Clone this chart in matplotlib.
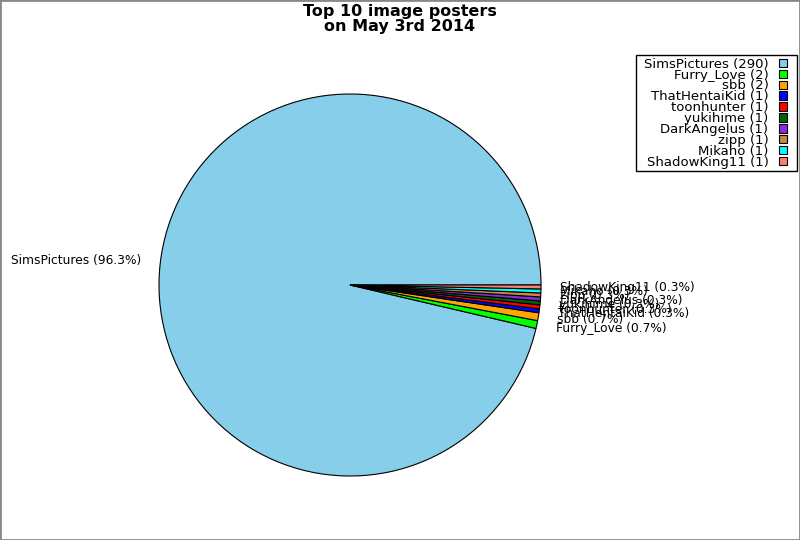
import matplotlib
matplotlib.use("Agg")
import matplotlib.pyplot as plt
from matplotlib.patches import Rectangle

names = ["SimsPictures", "Furry_Love", "sbb", "ThatHentaiKid", "toonhunter",
         "yukihime", "DarkAngelus", "zipp", "Mikaho", "ShadowKing11"]
counts = [290, 2, 2, 1, 1, 1, 1, 1, 1, 1]
colors = ["#87CEEB", "#00FF00", "#FFA500", "#0000FF", "#FF0000",
          "#006400", "#8A2BE2", "#CD853F", "#00FFFF", "#FA8072"]

total = sum(counts)
pie_labels = [f"{n} ({c / total * 100:.1f}%)" for n, c in zip(names, counts)]
legend_labels = [f"{n} ({c})" for n, c in zip(names, counts)]

fig = plt.figure(figsize=(8, 5.4), dpi=100)
W, H = 800, 540
cx, cy, r = 350, 255, 191
side = 2.5 * r
ax = fig.add_axes([(cx - side / 2) / W, (cy - side / 2) / H, side / W, side / H])

wedges, texts = ax.pie(counts, labels=pie_labels, colors=colors, startangle=0,
                       counterclock=True,
                       wedgeprops=dict(edgecolor="black", linewidth=0.8),
                       textprops=dict(fontsize=8.8))
ax.set_aspect("equal")

fig.suptitle("Top 10 image posters\non May 3rd 2014", fontsize=11.5, fontweight="bold",
             y=0.992, linespacing=1.0)

leg = fig.legend(wedges, legend_labels, loc="upper right",
                 bbox_to_anchor=(789.5 / W, 1 - 55 / H), markerfirst=False,
                 fontsize=9.5, labelspacing=-0.16, handlelength=0.6, handleheight=0.6,
                 handletextpad=0.8, borderpad=0.2, frameon=False, borderaxespad=0)

fig.canvas.draw()
ext = leg.get_window_extent(fig.canvas.get_renderer())
bx0, bx1 = ext.x0 - 5.5, ext.x1 + 7.5
fig.patches.append(Rectangle((bx0 / W, ext.y0 / H), (bx1 - bx0) / W, ext.height / H,
                             transform=fig.transFigure, fill=False,
                             edgecolor="black", linewidth=1.0, zorder=5))

fig.patches.append(Rectangle((0, 0), 1, 1, transform=fig.transFigure, fill=False,
                             edgecolor="#888888", linewidth=2, zorder=10))

fig.savefig("out.png", dpi=100)
